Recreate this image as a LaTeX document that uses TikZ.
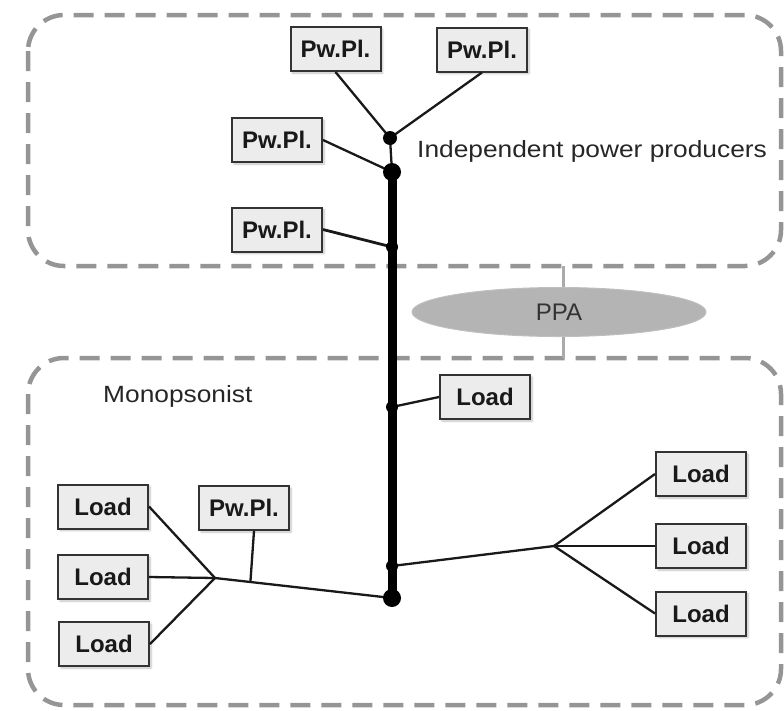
\documentclass[tikz,border=0pt]{standalone}
\usepackage{fontspec}
\setmainfont{Liberation Sans}
\newfontfamily\widefont[FakeStretch=1.12]{Liberation Sans}
\usetikzlibrary{shapes.geometric,shadows,shadows.blur,calc}
\definecolor{boxfill}{HTML}{ECECEC}
\definecolor{boxline}{HTML}{333333}
\definecolor{zone}{HTML}{959595}
\definecolor{ppafill}{HTML}{B4B4B4}
\tikzset{
  unitbox/.style={draw=boxline, line width=2pt, fill=boxfill,
    minimum width=90pt, minimum height=44pt, inner sep=0pt,
    font=\fontsize{24}{28}\selectfont\bfseries, text=black!90,
    blur shadow={shadow xshift=2pt, shadow yshift=-2pt, shadow opacity=25, shadow blur steps=6}},
  zonebox/.style={draw=zone, line width=4.5pt, dash pattern=on 20pt off 11pt, rounded corners=36pt},
  wire/.style={draw=black!90, line width=2.3pt},
  bus/.style={draw=black, line width=9pt},
  bigdot/.style={fill=black, circle, inner sep=0pt, minimum size=18pt},
  smalldot/.style={fill=black, circle, inner sep=0pt, minimum size=12pt},
  zonelabel/.style={font=\widefont\fontsize{23.5}{28}\selectfont, text=black!85, inner sep=0pt},
  ppalink/.style={draw=zone!80, line width=3pt}
}
\begin{document}
\begin{tikzpicture}[x=1pt, y=-1pt]
\useasboundingbox (0,0) rectangle (784,710);
% zones
\draw[zonebox] (28,15) rectangle (781,266);
\draw[zonebox] (28,358) rectangle (781,705);
% PPA
\node[ellipse, fill=ppafill, draw=ppafill!85, line width=1pt, minimum width=294pt, minimum height=49pt, inner sep=0pt,
      font=\fontsize{24}{28}\selectfont, text=black!80] (ppa) at (559,312) {PPA};
\coordinate (zt) at (563,266);
\coordinate (zb) at (563,358);
\draw[ppalink] (zt) -- (ppa.north -| zt);
\draw[ppalink] (ppa.south -| zb) -- (zb);
% labels
\node[zonelabel, anchor=base west] (ipp) at (417,157) {Independent power producers};
\node[zonelabel, anchor=base west] (mono) at (103,402) {Monopsonist};
% junction points
\coordinate (jTop) at (390,138);
\coordinate (bTop) at (392,172);
\coordinate (dP) at (392,247);
\coordinate (dL) at (392,407);
\coordinate (dR) at (392,566);
\coordinate (bBot) at (392,598);
\coordinate (jR) at (554,546);
\coordinate (jL) at (215,578);
\coordinate (jPE) at ($(jL)!0.2!(bBot)$);
% boxes
\node[unitbox] (pA) at (335.5,49) {Pw.Pl.};
\node[unitbox] (pB) at (482,49.5) {Pw.Pl.};
\node[unitbox] (pC) at (277,140) {Pw.Pl.};
\node[unitbox] (pD) at (277,229.5) {Pw.Pl.};
\node[unitbox] (ld1) at (485,397) {Load};
\node[unitbox] (pE) at (244,508) {Pw.Pl.};
\node[unitbox] (lL1) at (103,506.5) {Load};
\node[unitbox] (lL2) at (103,577) {Load};
\node[unitbox] (lL3) at (104,644) {Load};
\node[unitbox] (lR1) at (701,474) {Load};
\node[unitbox] (lR2) at (701,546) {Load};
\node[unitbox] (lR3) at (701,613.5) {Load};
% wires
\draw[wire] (pA.south) -- (jTop);
\draw[wire] (pB.south) -- (jTop);
\draw[wire] (jTop) -- (bTop);
\draw[wire] (pC.east) -- (bTop);
\draw[wire, line width=2.8pt] (pD.east) -- (dP);
\draw[bus] (bTop) -- (bBot);
\draw[wire] (ld1.west) -- (dL);
\draw[wire] (dR) -- (jR);
\draw[wire] (jR) -- (lR1.west);
\draw[wire] (jR) -- (lR2.west);
\draw[wire] (jR) -- (lR3.west);
\draw[wire] (bBot) -- (jL);
\draw[wire] (jL) -- (lL1.east);
\draw[wire] (jL) -- (lL2.east);
\draw[wire] (jL) -- (lL3.east);
\draw[wire] ([xshift=10pt]pE.south) -- (jPE);
% dots
\node[smalldot, minimum size=14pt] (nTop) at (jTop) {};
\node[bigdot] (nbTop) at (bTop) {};
\node[smalldot] (ndP) at (dP) {};
\node[smalldot] (ndL) at (dL) {};
\node[smalldot] (ndR) at (dR) {};
\node[bigdot] (nbBot) at (bBot) {};
\end{tikzpicture}
\end{document}
